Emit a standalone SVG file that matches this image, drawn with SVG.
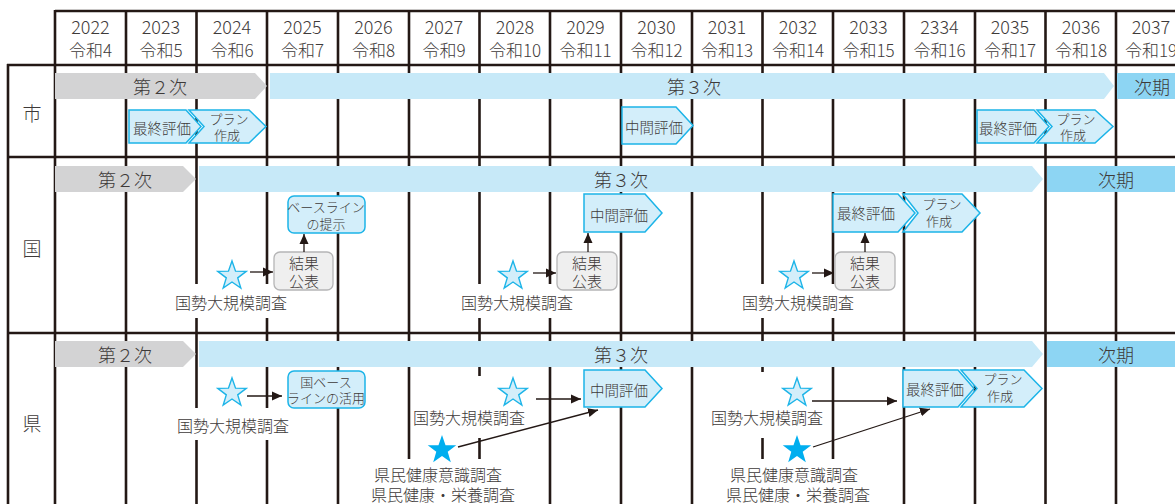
<svg xmlns="http://www.w3.org/2000/svg" width="1175" height="504" viewBox="0 0 1175 504">
<defs>
<style>
text{font-family:"Noto Sans CJK JP","Noto Sans",sans-serif;font-weight:300;fill:#3e3a39;text-anchor:middle;dominant-baseline:central}
.grid{stroke:#231815;stroke-width:2.6;fill:none}
.yr{font-size:18px}
.rw{font-size:17px}
.side{font-size:19px}
.bar2{fill:#d3d3d4}
.bar3{fill:#c7e9f8}
.next{fill:#8dd5f3}
.bt{font-size:18px}
.box{fill:#d3eefa;stroke:#1cb4e8;stroke-width:1.5}
.gbox{fill:#efefef;stroke:#b5b5b6;stroke-width:1.3}
.bx{font-size:14.5px}
.sm{font-size:13px}
.lb{font-size:16px}
.rs{font-size:15px}
.bg{fill:#ffffff}
.con{stroke:#231815;stroke-width:1.3;fill:none}
.star{fill:#d3eefa;stroke:#1cb4e8;stroke-width:1.4}
.fstar{fill:#00aeef}
</style>
<path id="st" d="M0,-15 L3.53,-4.85 L14.27,-4.64 L5.71,1.85 L8.82,12.14 L0,6 L-8.82,12.14 L-5.71,1.85 L-14.27,-4.64 L-3.53,-4.85 Z"/>
<marker id="ah" markerWidth="10" markerHeight="10" viewBox="0 0 10 10" refX="10" refY="5" orient="auto" markerUnits="userSpaceOnUse">
<path d="M0,0.5 L10,5 L0,9.5 Z" fill="#231815"/>
</marker>
</defs>
<rect width="1175" height="504" fill="#ffffff"/>

<g id="grid">
<line class="grid" x1="55" y1="11" x2="1175" y2="11"/>
<line class="grid" x1="7" y1="65" x2="1175" y2="65"/>
<line class="grid" x1="7" y1="157" x2="1175" y2="157"/>
<line class="grid" x1="7" y1="333" x2="1175" y2="333"/>
<line class="grid" x1="8" y1="64" x2="8" y2="504"/>
<line class="grid" x1="55" y1="10" x2="55" y2="504"/>
<line class="grid" x1="126" y1="10" x2="126" y2="504"/>
<line class="grid" x1="196.5" y1="10" x2="196.5" y2="504"/>
<line class="grid" x1="267" y1="10" x2="267" y2="504"/>
<line class="grid" x1="338" y1="10" x2="338" y2="504"/>
<line class="grid" x1="409" y1="10" x2="409" y2="504"/>
<line class="grid" x1="479.5" y1="10" x2="479.5" y2="504"/>
<line class="grid" x1="550" y1="10" x2="550" y2="504"/>
<line class="grid" x1="621" y1="10" x2="621" y2="504"/>
<line class="grid" x1="692" y1="10" x2="692" y2="504"/>
<line class="grid" x1="762.5" y1="10" x2="762.5" y2="504"/>
<line class="grid" x1="833" y1="10" x2="833" y2="504"/>
<line class="grid" x1="904" y1="10" x2="904" y2="504"/>
<line class="grid" x1="975" y1="10" x2="975" y2="504"/>
<line class="grid" x1="1045.5" y1="10" x2="1045.5" y2="504"/>
<line class="grid" x1="1116" y1="10" x2="1116" y2="504"/>
</g>

<g id="header">
<text class="yr" x="90.5" y="26">2022</text><text class="rw" x="90.5" y="49">令和4</text>
<text class="yr" x="161" y="26">2023</text><text class="rw" x="161" y="49">令和5</text>
<text class="yr" x="232" y="26">2024</text><text class="rw" x="232" y="49">令和6</text>
<text class="yr" x="302.5" y="26">2025</text><text class="rw" x="302.5" y="49">令和7</text>
<text class="yr" x="373.5" y="26">2026</text><text class="rw" x="373.5" y="49">令和8</text>
<text class="yr" x="444" y="26">2027</text><text class="rw" x="444" y="49">令和9</text>
<text class="yr" x="515" y="26">2028</text><text class="rw" x="515" y="49">令和10</text>
<text class="yr" x="585.5" y="26">2029</text><text class="rw" x="585.5" y="49">令和11</text>
<text class="yr" x="656.5" y="26">2030</text><text class="rw" x="656.5" y="49">令和12</text>
<text class="yr" x="727" y="26">2031</text><text class="rw" x="727" y="49">令和13</text>
<text class="yr" x="798" y="26">2032</text><text class="rw" x="798" y="49">令和14</text>
<text class="yr" x="868.5" y="26">2033</text><text class="rw" x="868.5" y="49">令和15</text>
<text class="yr" x="939.5" y="26">2334</text><text class="rw" x="939.5" y="49">令和16</text>
<text class="yr" x="1010" y="26">2035</text><text class="rw" x="1010" y="49">令和17</text>
<text class="yr" x="1081" y="26">2036</text><text class="rw" x="1081" y="49">令和18</text>
<text class="yr" x="1151" y="26">2037</text><text class="rw" x="1151" y="49">令和19</text>
<text class="side" x="32" y="112">市</text>
<text class="side" x="32" y="247">国</text>
<text class="side" x="32" y="422">県</text>
</g>

<g id="label-bg">
<rect class="bg" x="174" y="284" width="116" height="34"/>
<rect class="bg" x="459" y="284" width="116" height="34"/>
<rect class="bg" x="740" y="284" width="116" height="34"/>
<rect class="bg" x="175" y="408" width="116" height="32"/>
<rect class="bg" x="411" y="376" width="116" height="62"/>
<rect class="bg" x="709" y="372" width="116" height="66"/>
<rect class="bg" x="366" y="459" width="152" height="45"/>
<rect class="bg" x="722" y="459" width="152" height="45"/>
</g>

<g id="city-row">
<g id="city-phase2"><path class="bar2" d="M55,73 H255 L267,86 L255,99 H55 Z"/><text class="bt" x="160" y="86">第２次</text></g>
<g id="city-phase3"><path class="bar3" d="M270,73 H1104 L1114,86 L1104,99 H270 Z"/><text class="bt" x="694" y="86">第３次</text></g>
<g id="city-next"><rect class="next" x="1117" y="73" width="58" height="26"/><text class="bt" x="1152" y="86">次期</text></g>
<g id="city-plan1"><path class="box" d="M189,110 H249 L266,126.5 L249,143 H189 L204,126.5 Z"/><text class="sm" x="229" y="118">プラン</text><text class="sm" x="227" y="134">作成</text></g>
<g id="city-final1"><path class="box" d="M129,110 H186 L201,126.5 L186,143 H129 Z"/><text class="bx" x="162" y="127">最終評価</text></g>
<g id="city-mid"><path class="box" d="M622,107 H676 L693,125.5 L676,144 H622 Z"/><text class="bx" x="654" y="126">中間評価</text></g>
<g id="city-plan2"><path class="box" d="M1037,110 H1095 L1113,126.5 L1095,143 H1037 L1052,126.5 Z"/><text class="sm" x="1076" y="118">プラン</text><text class="sm" x="1073" y="134">作成</text></g>
<g id="city-final2"><path class="box" d="M977,110 H1034 L1049,126.5 L1034,143 H977 Z"/><text class="bx" x="1008" y="127">最終評価</text></g>
</g>

<g id="nation-row">
<g id="nat-phase2"><path class="bar2" d="M55,166 H183 L196,179 L183,192 H55 Z"/><text class="bt" x="125" y="179">第２次</text></g>
<g id="nat-phase3"><path class="bar3" d="M199,166 H1032 L1043,179 L1032,192 H199 Z"/><text class="bt" x="621" y="179">第３次</text></g>
<g id="nat-next"><rect class="next" x="1047" y="166" width="128" height="26"/><text class="bt" x="1116" y="179">次期</text></g>
<g id="nat-star1"><use href="#st" class="star" x="232" y="276"/><text class="lb" x="231" y="302">国勢大規模調査</text></g>
<g id="nat-result1"><rect class="gbox" x="274" y="252" width="59" height="38" rx="6"/><text class="rs" x="304" y="262">結果</text><text class="rs" x="304" y="280">公表</text></g>
<g id="nat-baseline"><rect class="box" x="288" y="196" width="77" height="37" rx="6"/><text class="sm" x="326" y="206">ベースライン</text><text class="sm" x="326" y="223">の提示</text></g>
<g id="nat-star2"><use href="#st" class="star" x="513" y="276"/><text class="lb" x="517" y="302">国勢大規模調査</text></g>
<g id="nat-result2"><rect class="gbox" x="557" y="252" width="60" height="38" rx="6"/><text class="rs" x="587" y="262">結果</text><text class="rs" x="587" y="280">公表</text></g>
<g id="nat-mid"><path class="box" d="M584,194 H645 L662,213 L645,232 H584 Z"/><text class="bx" x="619" y="214">中間評価</text></g>
<g id="nat-star3"><use href="#st" class="star" x="794" y="276"/><text class="lb" x="798" y="302">国勢大規模調査</text></g>
<g id="nat-result3"><rect class="gbox" x="835" y="252" width="60" height="38" rx="6"/><text class="rs" x="865" y="262">結果</text><text class="rs" x="865" y="280">公表</text></g>
<g id="nat-plan"><path class="box" d="M903,194 H962 L980,213 L962,232 H903 L918,213 Z"/><text class="sm" x="942" y="203">プラン</text><text class="sm" x="939" y="220">作成</text></g>
<g id="nat-final"><path class="box" d="M833,194 H898 L915,213 L898,232 H833 Z"/><text class="bx" x="866" y="212">最終評価</text></g>
</g>

<g id="pref-row">
<g id="pref-phase2"><path class="bar2" d="M55,341 H183 L196,354 L183,367 H55 Z"/><text class="bt" x="125" y="354">第２次</text></g>
<g id="pref-phase3"><path class="bar3" d="M199,341 H1032 L1043,354 L1032,367 H199 Z"/><text class="bt" x="621" y="354">第３次</text></g>
<g id="pref-next"><rect class="next" x="1047" y="341" width="128" height="26"/><text class="bt" x="1116" y="354">次期</text></g>
<g id="pref-star1"><use href="#st" class="star" x="232" y="393"/><text class="lb" x="233" y="425">国勢大規模調査</text></g>
<g id="pref-baseline"><rect class="box" x="288" y="371" width="77" height="37" rx="6"/><text class="sm" x="326" y="381">国ベース</text><text class="sm" x="326" y="397">ラインの活用</text></g>
<g id="pref-star2"><use href="#st" class="star" x="513" y="393"/><text class="lb" x="469" y="417">国勢大規模調査</text></g>
<g id="pref-mid"><path class="box" d="M584,370 H645 L662,388.5 L645,407 H584 Z"/><text class="bx" x="619" y="389">中間評価</text></g>
<g id="pref-survey1"><use href="#st" class="fstar" x="442" y="450"/><text class="lb" x="438" y="474">県民健康意識調査</text><text class="lb" x="443" y="494">県民健康・栄養調査</text></g>
<g id="pref-star3"><use href="#st" class="star" x="797" y="393"/><text class="lb" x="767" y="417">国勢大規模調査</text></g>
<g id="pref-plan"><path class="box" d="M961,370 H1024 L1042,388.5 L1024,407 H961 L977,388.5 Z"/><text class="sm" x="1003" y="378">プラン</text><text class="sm" x="1000" y="395">作成</text></g>
<g id="pref-final"><path class="box" d="M903,370 H958 L974,388.5 L958,407 H903 Z"/><text class="bx" x="935" y="388">最終評価</text></g>
<g id="pref-survey2"><use href="#st" class="fstar" x="797" y="450"/><text class="lb" x="794" y="474">県民健康意識調査</text><text class="lb" x="798" y="494">県民健康・栄養調査</text></g>
</g>

<g id="connectors">
<line class="con" x1="250" y1="272" x2="273" y2="272" marker-end="url(#ah)"/>
<line class="con" x1="304" y1="252" x2="304" y2="234" marker-end="url(#ah)"/>
<line class="con" x1="533" y1="273" x2="556" y2="273" marker-end="url(#ah)"/>
<line class="con" x1="588" y1="252" x2="588" y2="233" marker-end="url(#ah)"/>
<line class="con" x1="812" y1="273" x2="834" y2="273" marker-end="url(#ah)"/>
<line class="con" x1="865" y1="252" x2="865" y2="233" marker-end="url(#ah)"/>
<line class="con" x1="247" y1="396" x2="282" y2="396" marker-end="url(#ah)"/>
<line class="con" x1="536" y1="399" x2="581" y2="399" marker-end="url(#ah)"/>
<line class="con" x1="458" y1="447" x2="598" y2="410" marker-end="url(#ah)"/>
<line class="con" x1="812" y1="401" x2="897" y2="401" marker-end="url(#ah)"/>
<line class="con" x1="813" y1="447" x2="930" y2="409" marker-end="url(#ah)"/>
</g>
</svg>
